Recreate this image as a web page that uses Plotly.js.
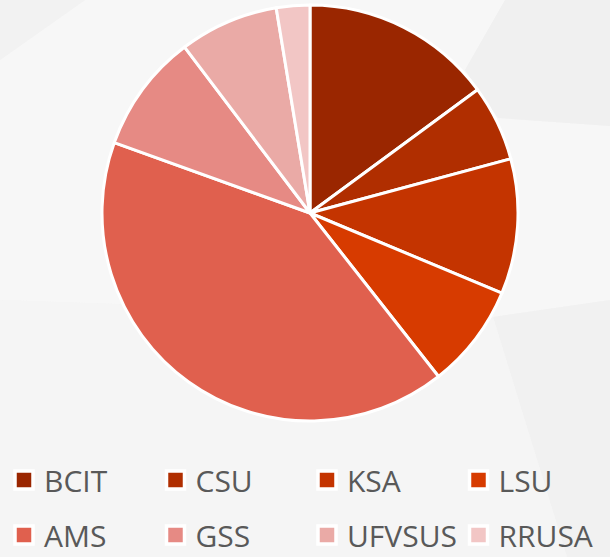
<!DOCTYPE html>
<html>
<head>
<meta charset="utf-8">
<script src="https://cdn.plot.ly/plotly-3.0.1.min.js"></script>
<style>
  html, body { margin: 0; padding: 0; background: #f4f4f4; }
  #chart { width: 610px; height: 557px; }
</style>
</head>
<body>
<div id="chart"></div>
<script>
const labels = ["BCIT", "CSU", "KSA", "LSU", "AMS", "GSS", "UFVSUS", "RRUSA"];
const values = [14.9, 5.9, 10.5, 8.1, 41.1, 9.2, 7.7, 2.6];
const colors = ["#9a2600", "#b02e00", "#c43400", "#d73b00", "#e0604e", "#e68a84", "#eaaaa6", "#f2c6c5"];

const W = 610, H = 557;

const trace = {
  type: "pie",
  labels: labels,
  values: values,
  sort: false,
  direction: "clockwise",
  rotation: 0,
  textinfo: "none",
  hoverinfo: "label+percent",
  marker: { colors: colors, line: { color: "#ffffff", width: 3 } },
  domain: { x: [102 / W, 518 / W], y: [1 - 421 / H, 1 - 5 / H] },
  showlegend: true
};

function P(x, y) { return (x / W).toFixed(4) + "," + (1 - y / H).toFixed(4); }
function poly(pts) { return "M" + pts.map(p => P(p[0], p[1])).join("L") + "Z"; }

const layout = {
  width: W,
  height: H,
  margin: { l: 0, r: 0, t: 0, b: 0, pad: 0 },
  paper_bgcolor: "#f4f4f4",
  plot_bgcolor: "rgba(0,0,0,0)",
  font: { family: "Open Sans, Noto Sans, sans-serif", color: "#595959" },
  showlegend: true,
  legend: {
    orientation: "h",
    xref: "paper", yref: "paper",
    x: 11 / W, y: 1 - 454 / H,
    xanchor: "left", yanchor: "top",
    font: { size: 30, color: "#595959", family: "Open Sans, Noto Sans, sans-serif" },
    entrywidth: 106.5, entrywidthmode: "pixels",
    bgcolor: "rgba(0,0,0,0)",
    borderwidth: 0,
    traceorder: "normal"
  },
  shapes: [
    { type: "path", xref: "paper", yref: "paper", layer: "below", line: { width: 0 }, fillcolor: "#f7f7f7",
      path: poly([[0, 60], [85, 0], [505, 0], [465, 70], [498, 118], [610, 126], [610, 300], [493, 317], [0, 300]]) },
    { type: "path", xref: "paper", yref: "paper", layer: "below", line: { width: 0 }, fillcolor: "#f0f0f0",
      path: poly([[505, 0], [610, 0], [610, 126], [498, 118], [465, 70]]) },
    { type: "path", xref: "paper", yref: "paper", layer: "below", line: { width: 0 }, fillcolor: "#f2f2f2",
      path: poly([[0, 0], [85, 0], [0, 60]]) },
    { type: "path", xref: "paper", yref: "paper", layer: "below", line: { width: 0 }, fillcolor: "#f1f1f1",
      path: poly([[493, 317], [610, 300], [610, 557], [567, 557]]) },
    { type: "path", xref: "paper", yref: "paper", layer: "below", line: { width: 0 }, fillcolor: "#f5f5f5",
      path: poly([[0, 300], [493, 317], [567, 557], [0, 557]]) }
  ]
};

const ROW_SPACING = 55;

Plotly.newPlot("chart", [trace], layout, { displayModeBar: false, staticPlot: true }).then(function (gd) {
  // enlarge legend swatches to match the reference
  gd.querySelectorAll(".legend path.legendpie").forEach(function (p) {
    p.setAttribute("d", "M9,9H-9V-9H9Z");
    p.style.strokeWidth = "3.5px";
  });
  // widen the gap between legend rows
  const items = Array.from(gd.querySelectorAll(".legend g.traces"));
  const parse = function (el) {
    const m = /translate\(\s*([-\d.]+)[ ,]+([-\d.]+)\s*\)/.exec(el.getAttribute("transform") || "");
    return m ? [parseFloat(m[1]), parseFloat(m[2])] : [0, 0];
  };
  const ys = Array.from(new Set(items.map(function (el) { return parse(el)[1]; }))).sort(function (a, b) { return a - b; });
  let extra = 0;
  items.forEach(function (el) {
    const t = parse(el);
    const row = ys.indexOf(t[1]);
    const ny = ys[0] + row * ROW_SPACING;
    extra = Math.max(extra, ny - t[1]);
    el.setAttribute("transform", "translate(" + t[0] + "," + ny + ")");
  });
  // grow the legend box and its clip area so the moved row stays inside it
  gd.querySelectorAll(".legend rect.bg").forEach(function (r) {
    const h = parseFloat(r.getAttribute("height") || "0");
    r.setAttribute("height", h + extra);
  });
  gd.querySelectorAll("clipPath[id^='legend'] rect").forEach(function (r) {
    const h = parseFloat(r.getAttribute("height") || "0");
    r.setAttribute("height", h + extra);
  });
});
</script>
</body>
</html>
